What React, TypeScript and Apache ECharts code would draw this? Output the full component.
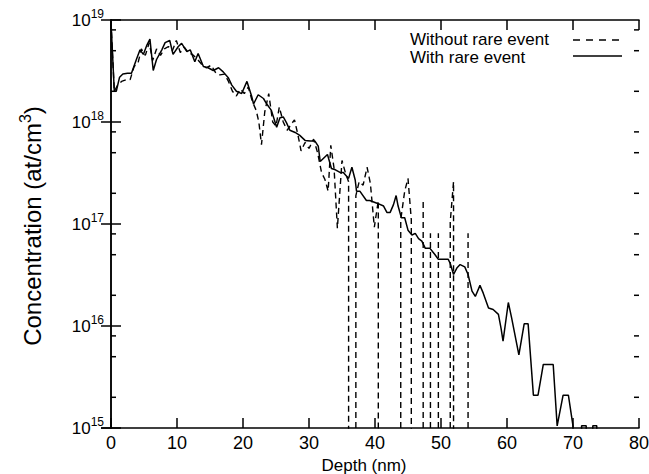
import React, { useEffect, useRef } from "react";
import * as echarts from "echarts";

const FONT = "'Liberation Sans', Arial, Helvetica, sans-serif";

// [depth (nm), concentration (at/cm^3)] ; 0 = empty bin
const withRareEvent: number[][] = [
  [0, 9.5e18], [0.5, 2.0e18], [0.8, 2.0e18], [1.3, 2.75e18], [1.8, 2.95e18], [2.5, 3.0e18],
  [3.1, 3.0e18], [3.9, 4.2e18], [4.4, 5.1e18], [4.9, 4.6e18], [5.4, 5.6e18], [5.9, 6.5e18],
  [6.4, 3.2e18], [6.9, 4.1e18], [7.7, 5.1e18], [8.2, 6.0e18], [8.9, 6.3e18], [9.4, 4.6e18],
  [10.2, 5.5e18], [10.7, 5.9e18], [11.5, 4.9e18], [12.0, 5.1e18], [12.7, 3.9e18], [13.2, 4.7e18],
  [14.0, 3.5e18], [14.7, 3.4e18], [15.5, 3.2e18], [16.3, 3.4e18], [17.0, 3.1e18], [17.8, 2.7e18],
  [18.3, 2.3e18], [19.0, 2.0e18], [19.8, 1.9e18], [20.6, 2.5e18], [21.3, 1.8e18], [21.6, 1.5e18],
  [22.3, 1.85e18], [23.1, 1.7e18], [23.6, 1.5e18], [24.3, 1.3e18], [25.1, 8.9e17], [25.6, 1.1e18],
  [26.1, 1.12e18], [26.6, 9.8e17], [27.1, 8.3e17], [27.9, 7.9e17], [28.6, 7.4e17], [29.4, 6.6e17],
  [30.2, 6.5e17], [30.9, 6.5e17], [31.4, 5.8e17], [31.7, 4.1e17], [32.8, 4.8e17], [33.4, 3.5e17],
  [34.0, 3.4e17], [34.7, 3.2e17], [35.2, 3.2e17], [36.0, 2.8e17], [36.5, 3.6e17], [37.0, 2.7e17],
  [37.2, 2.1e17], [37.7, 2.1e17], [38.7, 1.7e17], [39.2, 1.7e17], [40.3, 1.6e17], [41.3, 1.5e17],
  [41.8, 1.3e17], [42.3, 1.3e17], [42.8, 1.55e17], [43.2, 1.9e17], [43.5, 1.5e17], [44.0, 1.15e17],
  [44.5, 1.15e17], [45.0, 8.7e16], [45.6, 7.8e16], [46.1, 8.1e16], [46.6, 7.2e16], [47.1, 6.8e16],
  [47.6, 5.8e16], [48.3, 5.8e16], [49.1, 5.0e16], [49.6, 4.5e16], [50.4, 4.5e16], [51.1, 4.5e16],
  [51.4, 4.1e16], [51.9, 3.2e16], [52.4, 3.7e16], [52.9, 4.0e16], [53.6, 3.8e16], [54.1, 3.2e16],
  [54.7, 2.2e16], [55.2, 1.95e16], [55.9, 2.5e16], [56.4, 2.1e16], [56.9, 1.7e16], [57.2, 1.5e16],
  [57.9, 1.45e16], [58.7, 1.3e16], [59.1, 9.5e15], [59.4, 7.1e15], [60.2, 1.7e16], [60.7, 1.2e16],
  [61.8, 5.2e15], [62.6, 1.05e16], [63.2, 1.05e16], [64.0, 2.1e15], [64.7, 2.1e15], [65.5, 4.2e15],
  [66.2, 4.2e15], [67.0, 4.2e15], [67.6, 1.05e15], [68.5, 2.1e15], [69.3, 2.1e15], [70.0, 1.05e15],
  [70.6, 0], [71.3, 1.05e15], [72.0, 1.05e15], [72.6, 0], [73.0, 1.05e15], [73.6, 1.05e15], [74.2, 0],
];

const withoutRareEvent: number[][] = [
  [0, 9.5e18], [0.5, 2.0e18], [1.0, 2.3e18], [1.6, 2.5e18], [2.3, 2.6e18], [2.9, 2.6e18],
  [3.5, 3.5e18], [4.1, 3.8e18], [4.6, 5.2e18], [5.2, 4.5e18], [5.8, 6.0e18], [6.3, 4.0e18],
  [6.9, 5.2e18], [7.5, 4.5e18], [8.1, 5.2e18], [8.7, 5.5e18], [9.3, 5.0e18], [9.9, 6.3e18],
  [10.5, 4.8e18], [11.1, 5.4e18], [11.7, 4.8e18], [12.3, 4.6e18], [13.0, 4.2e18], [13.7, 3.7e18],
  [14.4, 3.4e18], [15.2, 3.6e18], [15.9, 3.0e18], [16.5, 2.9e18], [17.2, 2.95e18], [17.8, 2.5e18],
  [18.4, 2.0e18], [19.0, 1.8e18], [19.6, 2.1e18], [20.2, 1.9e18], [20.8, 2.2e18], [21.4, 1.6e18],
  [22.0, 1.3e18], [22.4, 1.0e18], [22.8, 6.0e17], [23.3, 1.26e18], [23.9, 1.9e18], [24.5, 1.0e18],
  [25.0, 9.1e17], [25.5, 1.4e18], [26.1, 1.0e18], [26.7, 8.3e17], [27.3, 9.5e17], [27.8, 1.05e18],
  [28.3, 7.6e17], [28.8, 5.2e17], [29.4, 6.3e17], [30.0, 5.5e17], [30.7, 6.8e17], [31.3, 5.0e17],
  [31.9, 3.2e17], [32.4, 2.75e17], [32.9, 2.1e17], [33.3, 5.9e17], [33.8, 3.5e17], [34.3, 9.1e16],
  [35.0, 4.2e17], [35.5, 3.2e17], [36.0, 2.6e17], [36.5, 0], [37.1, 1.9e17], [37.6, 2.6e17],
  [38.2, 2.4e17], [38.8, 3.6e17], [39.3, 2.5e17], [39.9, 9.3e16], [40.5, 1.7e17], [42.0, 0],
  [43.9, 1.1e17], [44.5, 2.1e17], [45.0, 2.8e17], [45.5, 1.1e17], [46.4, 0], [47.3, 1.66e17],
  [47.85, 0], [48.4, 8.1e16], [49.0, 0], [49.6, 8.1e16], [50.5, 0], [51.4, 1.05e17],
  [51.9, 2.6e17], [53.0, 0], [54.1, 8.1e16], [55.0, 0], [74.0, 0],
];

const seriesNames = ["Without rare event", "With rare event"];
const xTickStep = 10;
const yMin = 1e15;
const yMax = 1e19;
const minorTickValues = [2e15, 5e15, 8e15, 2e16, 5e16, 8e16, 2e17, 5e17, 8e17, 2e18, 5e18, 8e18];
const EMPTY_BIN = 1; // empty bins are drawn as drops far below the axis

// Empty bins drop the line straight down to the floor (as on a log plot), one stroke per edge.
function toLine(arr: number[][]) {
  const out: (number | string)[][] = [];
  for (let i = 0; i < arr.length; i++) {
    const [d, c] = arr[i];
    if (!(c > 0)) continue;
    const prevZero = i > 0 && !(arr[i - 1][1] > 0);
    const nextZero = i < arr.length - 1 && !(arr[i + 1][1] > 0);
    if (prevZero) out.push([d, EMPTY_BIN]);
    out.push([d, c]);
    if (nextZero) {
      if (!prevZero) out.push([d, EMPTY_BIN]);
      out.push([d, "-"]);
    }
  }
  return out;
}

export default function App() {
  const ref = useRef<HTMLDivElement>(null);

  useEffect(() => {
    if (!ref.current) return;
    const chart = echarts.init(ref.current, null, { renderer: "svg" });
    const black = "#000";
    const axisLine = { show: true, lineStyle: { color: black, width: 1.5 } };
    const majorTick = { show: true, inside: true, length: 10, lineStyle: { color: black, width: 1.5 } };
    const logAxisBase = { type: "log", logBase: 10, min: yMin, max: yMax, splitLine: { show: false } };

    const baseGraphic: any[] = [
      {
        type: "text", x: 32, y: 226, rotation: Math.PI / 2,
        style: {
          text: "{a|Concentration (at/cm}{s|3}{a|)}",
          align: "center", verticalAlign: "middle",
          rich: {
            a: { fontSize: 24, fontFamily: FONT, fill: black },
            s: { fontSize: 16, fontFamily: FONT, fill: black, padding: [0, 0, 14, 0] },
          },
        },
      },
      {
        type: "text", x: 410, y: 39,
        style: { text: seriesNames[0], fontSize: 17, fontFamily: FONT, fill: black, align: "left", verticalAlign: "middle" },
      },
      {
        type: "text", x: 410, y: 57,
        style: { text: seriesNames[1], fontSize: 17, fontFamily: FONT, fill: black, align: "left", verticalAlign: "middle" },
      },
      {
        type: "line", shape: { x1: 573, y1: 40, x2: 622, y2: 40 },
        style: { stroke: black, lineWidth: 1.5, lineDash: [7, 6] },
      },
      {
        type: "line", shape: { x1: 573, y1: 56, x2: 622, y2: 56 },
        style: { stroke: black, lineWidth: 1.5 },
      },
    ];

    chart.setOption({
      animation: false,
      backgroundColor: "#fff",
      grid: { left: 111, right: 10, top: 20, bottom: 46, containLabel: false, outerBoundsMode: "none" },
      xAxis: [
        {
          type: "value", min: 0, max: 80, interval: xTickStep, position: "bottom",
          axisLine, axisTick: majorTick, splitLine: { show: false },
          axisLabel: {
            margin: 6, fontSize: 18, color: black, fontFamily: FONT,
            alignMinLabel: "center", alignMaxLabel: "center",
          },
          name: "Depth (nm)", nameLocation: "middle", nameGap: 24,
          nameTextStyle: { fontSize: 17, color: black, fontFamily: FONT, padding: [0, 22, 0, 0] },
        },
        {
          type: "value", min: 0, max: 80, interval: xTickStep, position: "top",
          axisLine, axisTick: majorTick, splitLine: { show: false }, axisLabel: { show: false },
        },
      ],
      yAxis: [
        {
          ...logAxisBase, position: "left", axisLine, axisTick: majorTick,
          axisLabel: {
            margin: 7,
            formatter: (v: number) => `{b|10}{s|${Math.round(Math.log10(v))}}`,
            rich: {
              b: { fontSize: 17, color: black, fontFamily: FONT },
              s: { fontSize: 12, color: black, fontFamily: FONT, padding: [0, 0, 12, 0] },
            },
          },
        },
        { ...logAxisBase, position: "right", axisLine, axisTick: majorTick, axisLabel: { show: false } },
      ],
      series: [
        {
          name: seriesNames[0], type: "line", data: toLine(withoutRareEvent),
          xAxisIndex: 0, yAxisIndex: 0, showSymbol: false, symbol: "none", clip: true, silent: true,
          connectNulls: false,
          lineStyle: { color: black, width: 1.4, type: [6, 4] },
        },
        {
          name: seriesNames[1], type: "line", data: toLine(withRareEvent),
          xAxisIndex: 0, yAxisIndex: 0, showSymbol: false, symbol: "none", clip: true, silent: true,
          connectNulls: false,
          lineStyle: { color: black, width: 1.5, type: "solid" },
        },
      ],
      graphic: baseGraphic,
    });

    // minor ticks (2, 5, 8 x 10^n) on both vertical axes, placed through the y scale
    const xl = chart.convertToPixel({ xAxisIndex: 0 }, 0) as number;
    const xr = chart.convertToPixel({ xAxisIndex: 0 }, 80) as number;
    const minorGraphic: any[] = [];
    minorTickValues.forEach((v) => {
      const y = chart.convertToPixel({ yAxisIndex: 0 }, v) as number;
      minorGraphic.push(
        { type: "line", shape: { x1: xl, y1: y, x2: xl + 5, y2: y }, style: { stroke: black, lineWidth: 1.5 } },
        { type: "line", shape: { x1: xr - 5, y1: y, x2: xr, y2: y }, style: { stroke: black, lineWidth: 1.5 } },
      );
    });
    chart.setOption({ graphic: [...baseGraphic, ...minorGraphic] });

    return () => chart.dispose();
  }, []);

  return (
    <div
      ref={ref}
      style={{ position: "fixed", left: 0, top: 0, width: 649, height: 474, background: "#fff" }}
    />
  );
}
